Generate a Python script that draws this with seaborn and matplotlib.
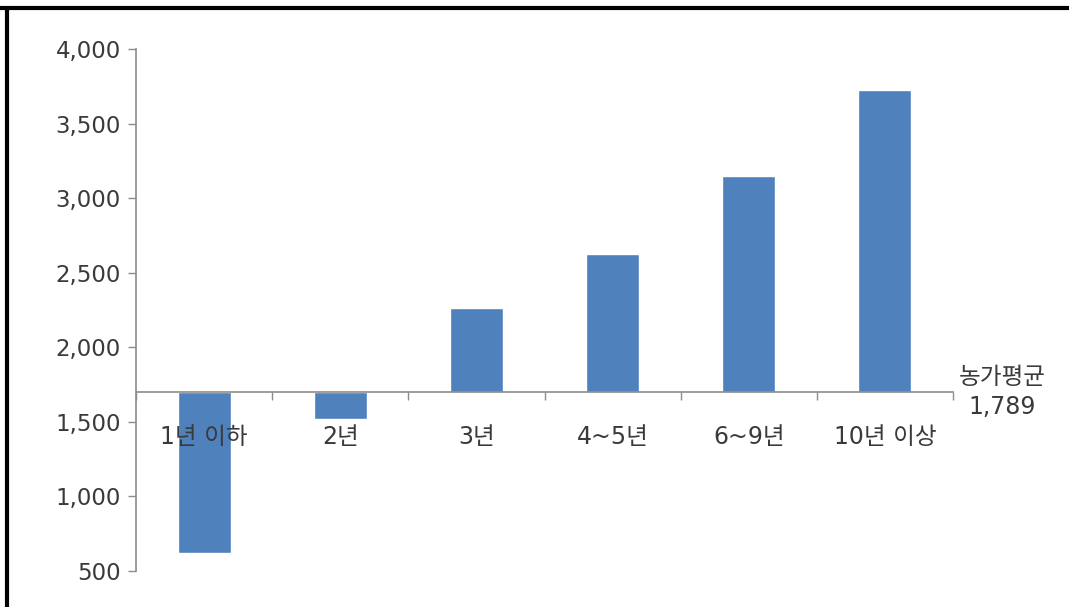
import numpy as np
import pandas as pd
import matplotlib
matplotlib.use("Agg")
import matplotlib.pyplot as plt
from matplotlib.ticker import FixedLocator, FuncFormatter
from matplotlib.transforms import blended_transform_factory
from matplotlib.lines import Line2D
import seaborn as sns

# data
categories = ['1년 이하', '2년', '3년', '4~5년', '6~9년', '10년 이상']
values = [622, 1519, 2265, 2628, 3150, 3723]
baseline = 1700          # where the category axis crosses the value axis
avg_label = '농가평균\n1,789'
y_ticks = [500, 1000, 1500, 2000, 2500, 3000, 3500, 4000]

BAR_COLOR = '#4F81BD'
AXIS_COLOR = '#8C8C8C'
TEXT_COLOR = '#3A3A3A'

sns.set_theme(style='white')
plt.rcParams['font.family'] = ['DejaVu Sans', 'Noto Sans CJK KR']

df = pd.DataFrame({'group': categories,
                   'diff': np.array(values) - baseline})

fig = plt.figure(figsize=(10.69, 6.07), dpi=100)
ax = fig.add_axes([136 / 1069, 1 - 571 / 607, (953 - 136) / 1069, (571 - 49) / 607])

sns.barplot(data=df, x='group', y='diff', order=categories, color=BAR_COLOR,
            saturation=1, width=0.39, ax=ax)
ax.set_axisbelow(False)   # category labels are drawn over the bars

ax.set_xlim(-0.5, len(categories) - 0.5)
ax.set_ylim(y_ticks[0] - baseline, y_ticks[-1] - baseline)

# value axis labelled in real units
ax.yaxis.set_major_locator(FixedLocator([t - baseline for t in y_ticks]))
ax.yaxis.set_major_formatter(FuncFormatter(lambda v, p: f'{v + baseline:,.0f}'))
ax.tick_params(axis='y', which='major', direction='out', length=6, width=1,
               color=AXIS_COLOR, labelcolor=TEXT_COLOR, labelsize=16.5, pad=5, left=True)

# category axis sits on the baseline
ax.spines['bottom'].set_position(('data', 0))
ax.spines['top'].set_visible(False)
ax.spines['right'].set_visible(False)
for s in ('left', 'bottom'):
    ax.spines[s].set_color(AXIS_COLOR)
    ax.spines[s].set_linewidth(1.2)

ax.set_xticks(np.arange(-0.5, len(categories)), minor=True)
ax.tick_params(axis='x', which='minor', direction='out', length=6, width=1,
               color=AXIS_COLOR, bottom=True)
ax.tick_params(axis='x', which='major', length=0, labelsize=17,
               labelcolor=TEXT_COLOR, pad=24)
ax.set_xlabel('')
ax.set_ylabel('')

ax.text(1.06, 0, avg_label,
        transform=blended_transform_factory(ax.transAxes, ax.transData),
        ha='center', va='center', fontsize=17, color=TEXT_COLOR, linespacing=1.3)

# page frame: top and left edges only
fig.add_artist(Line2D([0, 1], [1 - 8 / 607, 1 - 8 / 607], color='black', lw=3,
                      transform=fig.transFigure))
fig.add_artist(Line2D([7 / 1069, 7 / 1069], [0, 1 - 8 / 607], color='black', lw=3,
                      transform=fig.transFigure))

fig.savefig('out.png', dpi=100, facecolor='white')
